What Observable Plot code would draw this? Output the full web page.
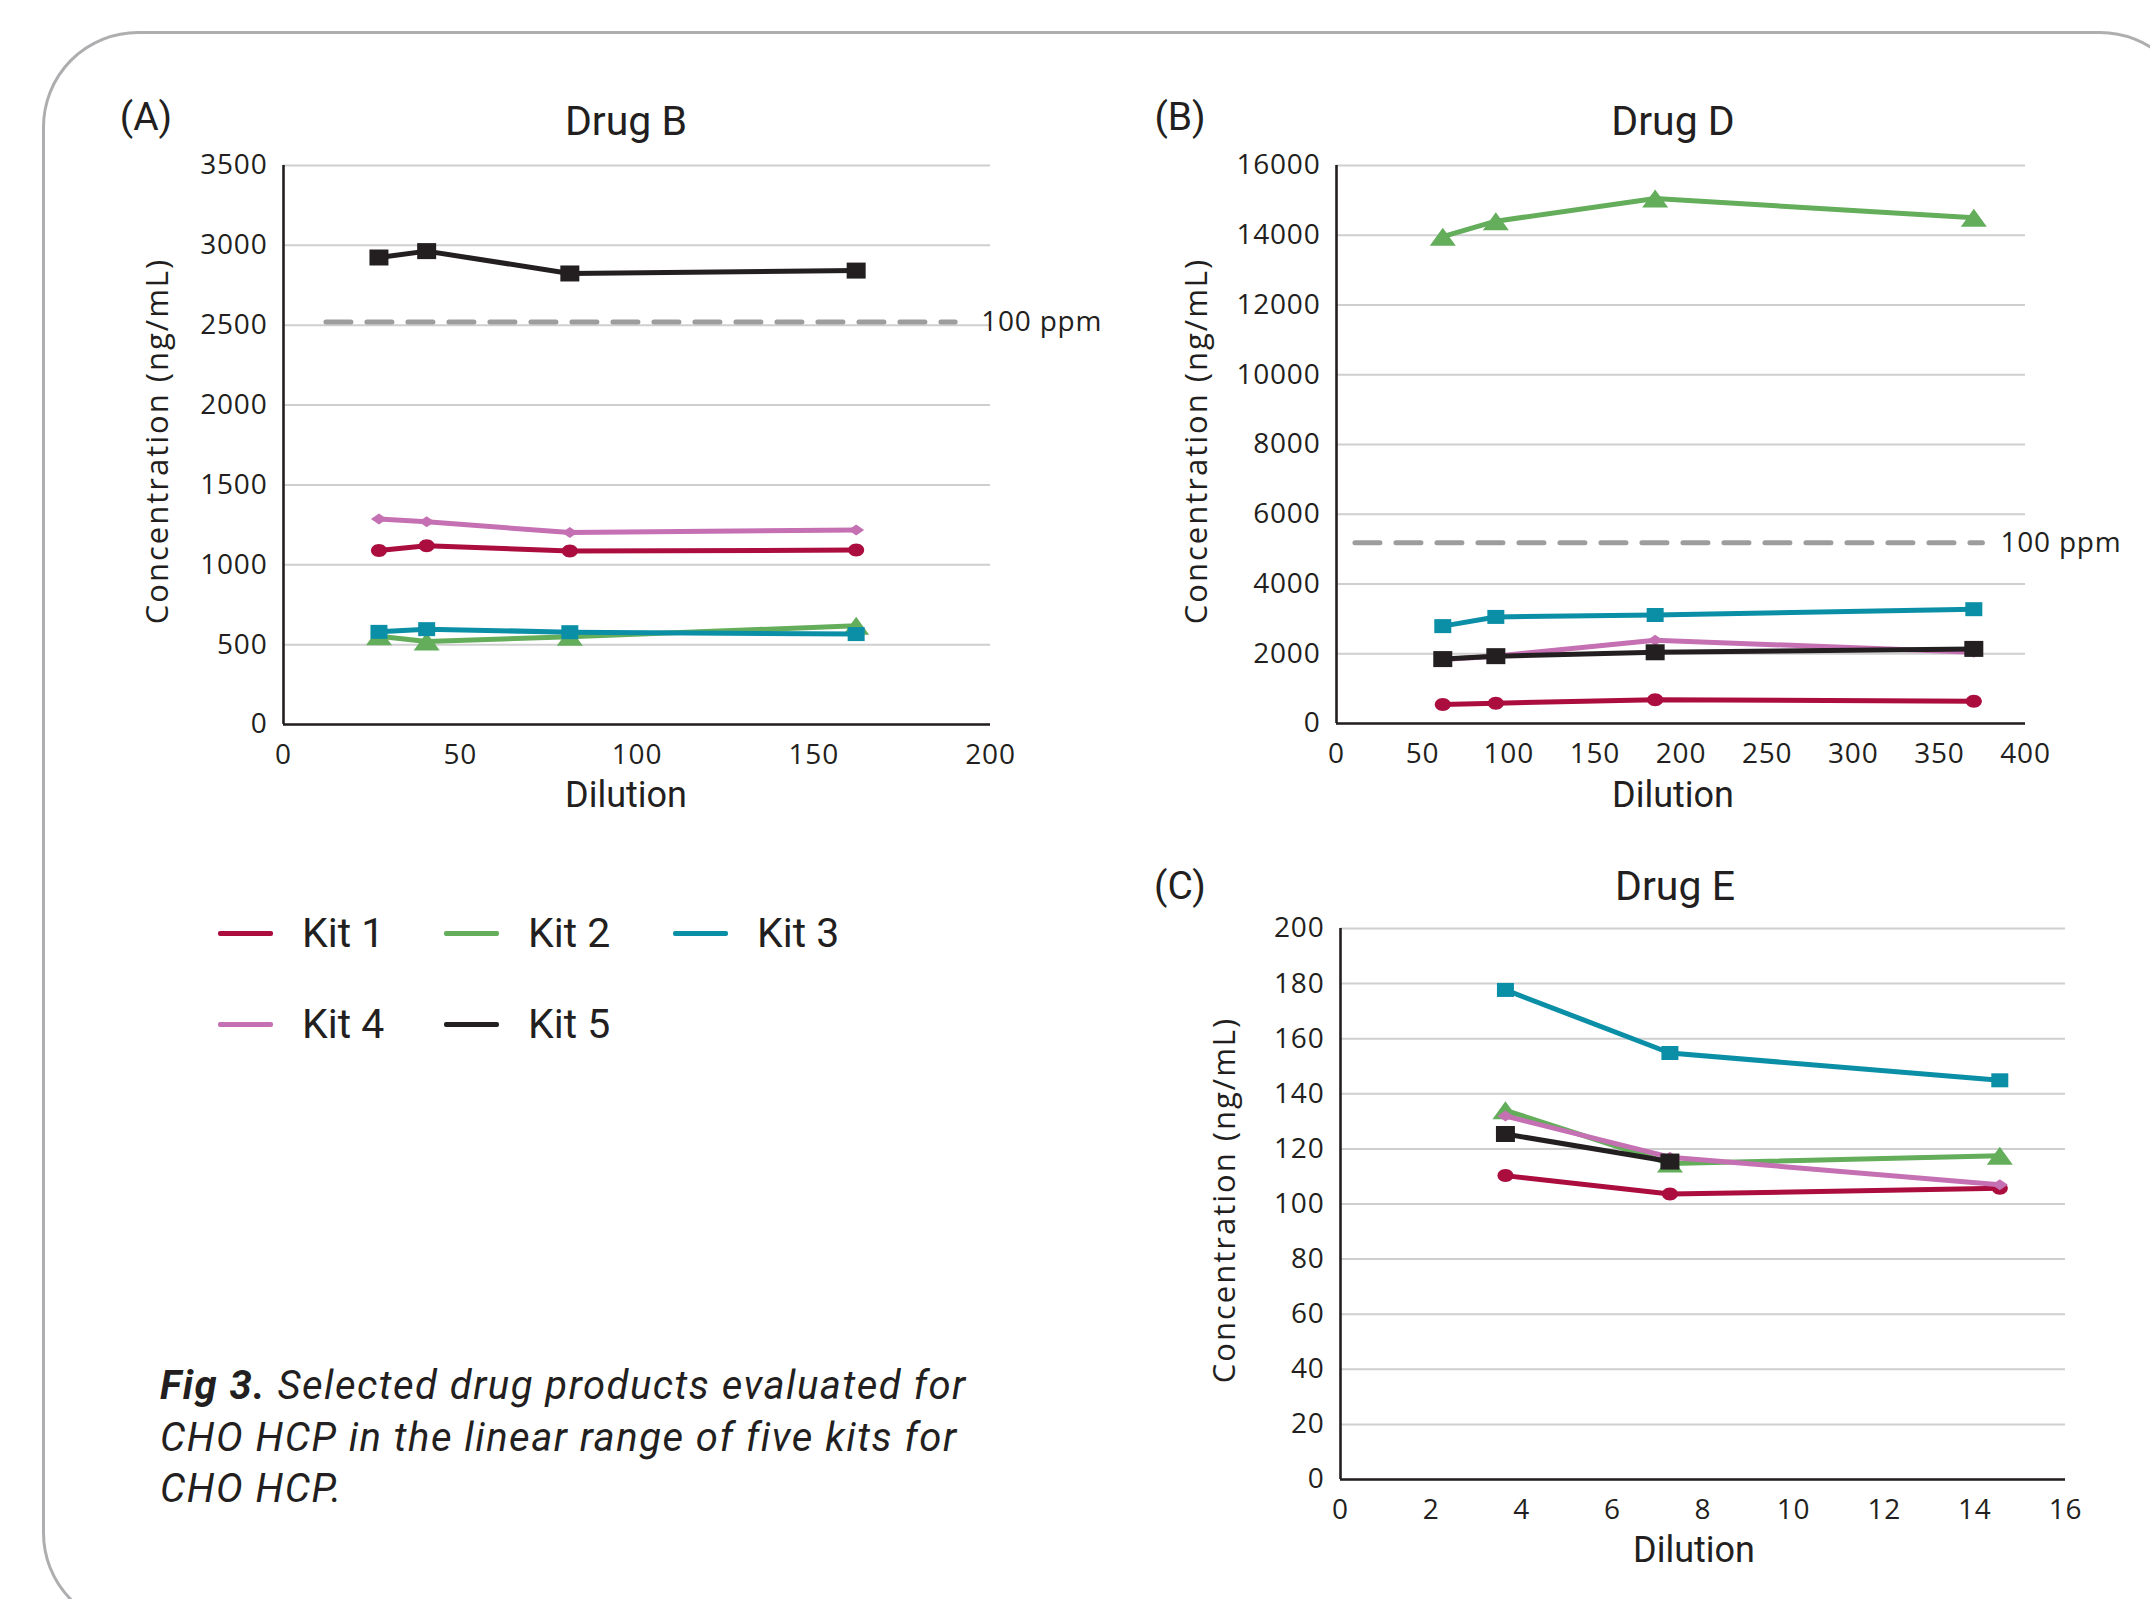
<!DOCTYPE html>
<html>
<head>
<meta charset="utf-8">
<script src="https://cdn.jsdelivr.net/npm/d3@7"></script>
<script src="https://cdn.jsdelivr.net/npm/@observablehq/plot@0.6"></script>
<style>
  html, body { margin: 0; padding: 0; background: #fff; }
  #page { position: relative; width: 2150px; height: 1599px; overflow: hidden; background: #fff; }
  #frame { position: absolute; left: 42px; top: 31px; width: 2154px; height: 1598px; border: 3px solid #aeaeb0; border-radius: 96px; box-sizing: border-box; }
  .t { position: absolute; color: #231f20; white-space: nowrap; line-height: 1; font-family: Roboto, sans-serif; }
  .c { transform: translate(-50%, -50%); }
  .ylab { position: absolute; color: #231f20; white-space: nowrap; line-height: 1; font-family: "Open Sans", sans-serif; font-size: 31px; letter-spacing: 2px; transform: translate(-50%, -50%) rotate(-90deg); }
  .panel { position: absolute; }
  .legline { position: absolute; height: 5px; border-radius: 2px; }
  #caption { position: absolute; left: 160px; top: 1360px; font-family: Roboto, sans-serif; font-style: italic; font-size: 40px; letter-spacing: 1.5px; line-height: 51.5px; color: #231f20; white-space: nowrap; }
</style>
</head>
<body>
<div id="page">
  <div id="frame"></div>
</div>
<script>
// ---------- data ----------
const kits = ["Kit 1", "Kit 2", "Kit 3", "Kit 4", "Kit 5"];
const kitColors = ["#ab0d3e", "#63ad5b", "#0b8fa7", "#c570b3", "#231f20"];

// Drug B (panel A)
const dilutionB = [27, 40.5, 81, 162];
const drugB_kit1 = [1090, 1119, 1086, 1092];
const drugB_kit2 = [553, 520, 549, 618];
const drugB_kit3 = [580, 597, 578, 566];
const drugB_kit4 = [1286, 1269, 1202, 1218];
const drugB_kit5 = [2924, 2964, 2824, 2842];
const ppmB = 2520;
const ppmRangeB = [12, 190];
const xTicksB = [0, 50, 100, 150, 200];
const yTicksB = [0, 500, 1000, 1500, 2000, 2500, 3000, 3500];

// Drug D (panel B)
const dilutionD = [61.7, 92.5, 185, 370];
const drugD_kit1 = [542, 583, 681, 639];
const drugD_kit2 = [13958, 14403, 15056, 14500];
const drugD_kit3 = [2792, 3056, 3111, 3278];
const drugD_kit4 = [1833, 1931, 2389, 2042];
const drugD_kit5 = [1847, 1931, 2042, 2139];
const ppmD = 5180;
const ppmRangeD = [10.7, 375];
const xTicksD = [0, 50, 100, 150, 200, 250, 300, 350, 400];
const yTicksD = [0, 2000, 4000, 6000, 8000, 10000, 12000, 14000, 16000];

// Drug E (panel C)
const dilutionE = [3.64, 7.27, 14.55];
const drugE_kit1 = [110.3, 103.6, 105.7];
const drugE_kit2 = [134, 114.7, 117.5];
const drugE_kit3 = [177.7, 154.8, 144.9];
const drugE_kit4 = [131.9, 117, 107];
const drugE_kit5 = [125.4, 115.4, null];
const xTicksE = [0, 2, 4, 6, 8, 10, 12, 14, 16];
const yTicksE = [0, 20, 40, 60, 80, 100, 120, 140, 160, 180, 200];

// ---------- marker shapes ----------
function ellipseSym(w, h) {
  return { draw(ctx) {
    const a = w / 2, b = h / 2, k = 0.5523;
    ctx.moveTo(-a, 0);
    ctx.bezierCurveTo(-a, -b * k, -a * k, -b, 0, -b);
    ctx.bezierCurveTo(a * k, -b, a, -b * k, a, 0);
    ctx.bezierCurveTo(a, b * k, a * k, b, 0, b);
    ctx.bezierCurveTo(-a * k, b, -a, b * k, -a, 0);
    ctx.closePath();
  }};
}
function rectSym(w, h) {
  return { draw(ctx) { ctx.rect(-w / 2, -h / 2, w, h); } };
}
function triSym(w, h) {
  return { draw(ctx) {
    ctx.moveTo(0, -h / 2); ctx.lineTo(w / 2, h / 2); ctx.lineTo(-w / 2, h / 2); ctx.closePath();
  }};
}
function diamondSym(w, h) {
  return { draw(ctx) {
    ctx.moveTo(-w / 2, 0); ctx.lineTo(0, -h / 2); ctx.lineTo(w / 2, 0); ctx.lineTo(0, h / 2); ctx.closePath();
  }};
}
const kitSymbols = [ellipseSym(16, 13), triSym(26, 18), rectSym(17, 14), diamondSym(16, 11), rectSym(19, 16)];

// ---------- panels ----------
function buildPanel(cfg) {
  const marks = [
    Plot.ruleY(cfg.yTicks, {stroke: "#cfcfcf", strokeWidth: 2}),
    Plot.ruleX([cfg.xTicks[0]], {stroke: "#231f20", strokeWidth: 2.6}),
    Plot.ruleY([cfg.yTicks[0]], {stroke: "#231f20", strokeWidth: 2.6})
  ];
  if (cfg.ppm != null) {
    const ppmRows = cfg.ppmRange.map(x => ({x, y: cfg.ppm}));
    marks.push(Plot.line(ppmRows, {x: "x", y: "y", stroke: "#9d9d9d", strokeWidth: 5, strokeDasharray: "25,16"}));
    marks.push(Plot.text([ppmRows[1]], {x: "x", y: "y", text: () => "100 ppm", textAnchor: "start", dx: cfg.ppmDx, fontSize: 28, fill: "#231f20"}));
  }
  kits.forEach((k, i) => {
    const rows = cfg.dil.map((x, j) => ({kit: k, x, y: cfg.series[i][j]})).filter(d => d.y != null);
    marks.push(Plot.line(rows, {x: "x", y: "y", stroke: kitColors[i], strokeWidth: 5, strokeLinejoin: "round"}));
    marks.push(Plot.dot(rows, {x: "x", y: "y", fill: kitColors[i], stroke: "none", symbol: kitSymbols[i], r: 8}));
  });
  const svg = Plot.plot({
    width: cfg.width, height: cfg.height,
    marginLeft: cfg.ml, marginRight: cfg.mr, marginTop: cfg.mt, marginBottom: cfg.mb,
    style: {fontFamily: "'Open Sans', sans-serif", fontSize: "28px", color: "#231f20", background: "transparent", overflow: "visible", letterSpacing: "0.8px"},
    x: {domain: [cfg.xTicks[0], cfg.xTicks[cfg.xTicks.length - 1]], ticks: cfg.xTicks, tickSize: 0, tickPadding: 20, tickFormat: d => `${d}`, label: null},
    y: {domain: [cfg.yTicks[0], cfg.yTicks[cfg.yTicks.length - 1]], ticks: cfg.yTicks, tickSize: 0, tickPadding: 16, tickFormat: d => `${d}`, label: null},
    marks
  });
  const div = document.createElement("div");
  div.className = "panel";
  div.style.left = cfg.left + "px";
  div.style.top = cfg.top + "px";
  div.appendChild(svg);
  document.getElementById("page").appendChild(div);
}

buildPanel({
  left: 100, top: 140, width: 1010, height: 640, ml: 183, mr: 120, mt: 25, mb: 56,
  dil: dilutionB, series: [drugB_kit1, drugB_kit2, drugB_kit3, drugB_kit4, drugB_kit5],
  xTicks: xTicksB, yTicks: yTicksB, ppm: ppmB, ppmRange: ppmRangeB, ppmDx: 26
});
buildPanel({
  left: 1150, top: 140, width: 1000, height: 640, ml: 186, mr: 125, mt: 25, mb: 57,
  dil: dilutionD, series: [drugD_kit1, drugD_kit2, drugD_kit3, drugD_kit4, drugD_kit5],
  xTicks: xTicksD, yTicks: yTicksD, ppm: ppmD, ppmRange: ppmRangeD, ppmDx: 18
});
buildPanel({
  left: 1150, top: 900, width: 1000, height: 630, ml: 190, mr: 85, mt: 28, mb: 51,
  dil: dilutionE, series: [drugE_kit1, drugE_kit2, drugE_kit3, drugE_kit4, drugE_kit5],
  xTicks: xTicksE, yTicks: yTicksE, ppm: null
});

// ---------- text ----------
const page = document.getElementById("page");
function addText(txt, x, y, size, cls = "t c") {
  const d = document.createElement("div");
  d.className = cls;
  d.style.left = x + "px"; d.style.top = y + "px"; d.style.fontSize = size + "px";
  d.textContent = txt;
  page.appendChild(d);
  return d;
}
const panelLetters = ["(A)", "(B)", "(C)"];
const panelTitles = ["Drug B", "Drug D", "Drug E"];
addText(panelLetters[0], 146, 117, 39);
addText(panelLetters[1], 1180, 117, 39);
addText(panelLetters[2], 1180, 886, 39);
addText(panelTitles[0], 626, 121, 41);
addText(panelTitles[1], 1673, 121, 41);
addText(panelTitles[2], 1675, 886, 41);
addText("Dilution", 626, 795, 36);
addText("Dilution", 1673, 795, 36);
addText("Dilution", 1694, 1550, 36);
addText("Concentration (ng/mL)", 156, 441, 31, "ylab");
addText("Concentration (ng/mL)", 1195, 441, 31, "ylab");
addText("Concentration (ng/mL)", 1223, 1200, 31, "ylab");

// ---------- legend ----------
const legendSlots = [[218, 933], [444, 933], [673, 933], [218, 1024], [444, 1024]];
kits.forEach((k, i) => {
  const [lx, ly] = legendSlots[i];
  const line = document.createElement("div");
  line.className = "legline";
  line.style.left = lx + "px"; line.style.top = (ly - 2.5) + "px";
  line.style.width = "55px"; line.style.background = kitColors[i];
  page.appendChild(line);
  const t = addText(k, lx + 84, ly, 41, "t");
  t.style.transform = "translateY(-50%)";
});

// ---------- caption ----------
const cap = document.createElement("div");
cap.id = "caption";
cap.innerHTML = "<b>Fig 3.</b> Selected drug products evaluated for<br>CHO HCP in the linear range of five kits for<br>CHO HCP.";
page.appendChild(cap);
</script>
</body>
</html>
